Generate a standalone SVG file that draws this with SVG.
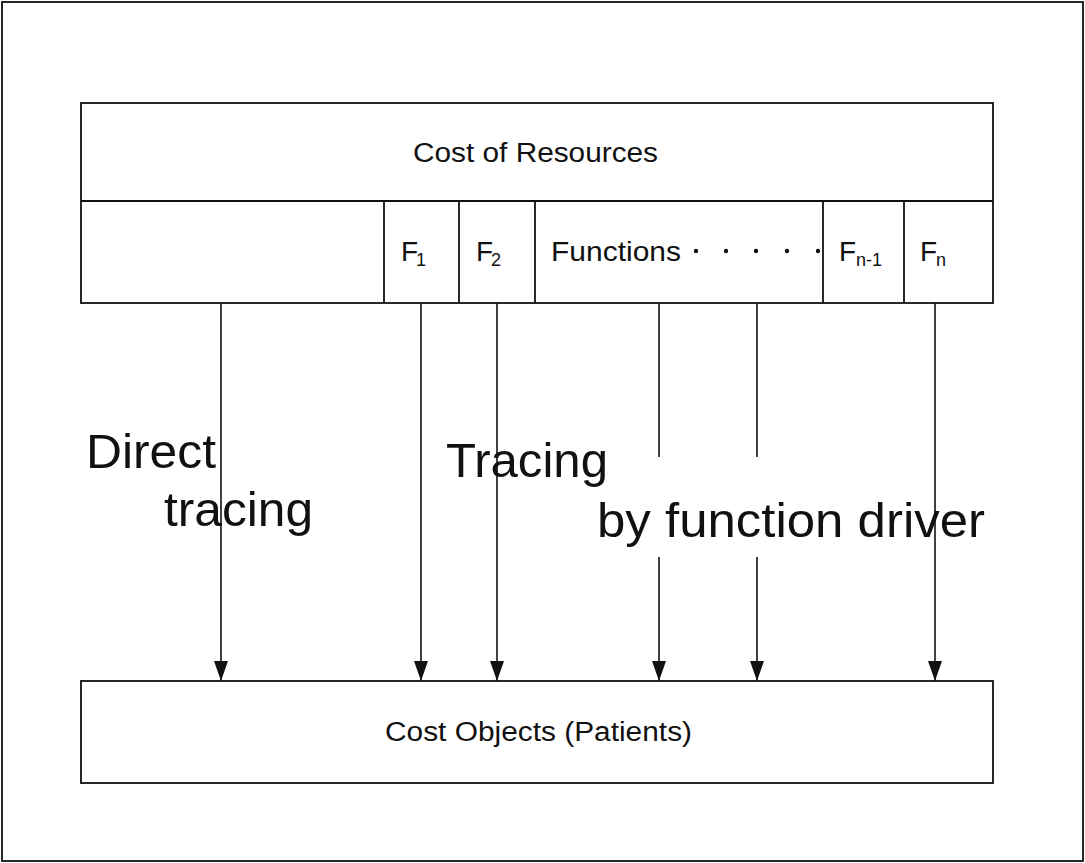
<svg xmlns="http://www.w3.org/2000/svg" width="1085" height="863" viewBox="0 0 1085 863">
<style>
  .box{fill:#fff;stroke:#111;stroke-width:1.8}
  .ln{stroke:#111;stroke-width:1.8;fill:none}
  .t{font-family:"Liberation Sans",Arial,sans-serif;fill:#111}
  .m{font-size:27px}
  .f{font-size:28px}
  .s{font-size:18px}
  .big{font-size:48px}
  .conn{stroke:#111;stroke-width:1.6;fill:none}
</style>
<defs>
  <marker id="ah" markerUnits="userSpaceOnUse" markerWidth="20" markerHeight="14" viewBox="0 0 20 14" refX="20" refY="7" orient="auto">
    <path d="M0,0 L20,7 L0,14 Z" fill="#111"/>
  </marker>
</defs>
<rect width="1085" height="863" fill="#fff"/>
<g id="frame"><rect class="box" x="2" y="2" width="1081" height="859" fill="none"/></g>
<g id="resources">
  <rect class="box" x="81" y="103" width="912" height="200"/>
  <line class="ln" x1="81" y1="201" x2="993" y2="201"/>
  <text class="t m" x="413" y="162" textLength="245" lengthAdjust="spacingAndGlyphs">Cost of Resources</text>
</g>
<g id="functions">
  <line class="ln" x1="384" y1="201" x2="384" y2="303"/>
  <line class="ln" x1="459" y1="201" x2="459" y2="303"/>
  <line class="ln" x1="535" y1="201" x2="535" y2="303"/>
  <line class="ln" x1="823" y1="201" x2="823" y2="303"/>
  <line class="ln" x1="904" y1="201" x2="904" y2="303"/>
  <text class="t f" x="401" y="261">F<tspan class="s" x="416" y="266">1</tspan></text>
  <text class="t f" x="476" y="261">F<tspan class="s" x="491" y="266">2</tspan></text>
  <text class="t f" x="551" y="261" textLength="130" lengthAdjust="spacingAndGlyphs">Functions</text>
  <g fill="#111">
    <circle cx="696" cy="251" r="2.2"/>
    <circle cx="726" cy="251" r="2.2"/>
    <circle cx="756" cy="251" r="2.2"/>
    <circle cx="787" cy="251" r="2.2"/>
    <circle cx="818" cy="251" r="2.2"/>
  </g>
  <text class="t f" x="839" y="261">F<tspan class="s" x="856" y="266">n-1</tspan></text>
  <text class="t f" x="920" y="261">F<tspan class="s" x="936" y="266">n</tspan></text>
</g>
<g id="patients">
  <rect class="box" x="81" y="681" width="912" height="102"/>
  <text class="t m" x="385" y="741" textLength="307" lengthAdjust="spacingAndGlyphs">Cost Objects (Patients)</text>
</g>
<g id="connectors">
  <line class="conn" x1="221" y1="303" x2="221" y2="681" marker-end="url(#ah)"/>
  <line class="conn" x1="421" y1="303" x2="421" y2="681" marker-end="url(#ah)"/>
  <line class="conn" x1="497" y1="303" x2="497" y2="681" marker-end="url(#ah)"/>
  <line class="conn" x1="659" y1="303" x2="659" y2="457"/>
  <line class="conn" x1="659" y1="557" x2="659" y2="681" marker-end="url(#ah)"/>
  <line class="conn" x1="757" y1="303" x2="757" y2="457"/>
  <line class="conn" x1="757" y1="557" x2="757" y2="681" marker-end="url(#ah)"/>
  <line class="conn" x1="935" y1="303" x2="935" y2="681" marker-end="url(#ah)"/>
</g>
<g id="labels">
  <text class="t big" x="86" y="468" textLength="130" lengthAdjust="spacingAndGlyphs">Direct</text>
  <text class="t big" x="164" y="526" textLength="149" lengthAdjust="spacingAndGlyphs">tracing</text>
  <text class="t big" x="446" y="477" textLength="162" lengthAdjust="spacingAndGlyphs">Tracing</text>
  <text class="t big" x="597" y="537" textLength="388" lengthAdjust="spacingAndGlyphs">by function driver</text>
</g>
</svg>
